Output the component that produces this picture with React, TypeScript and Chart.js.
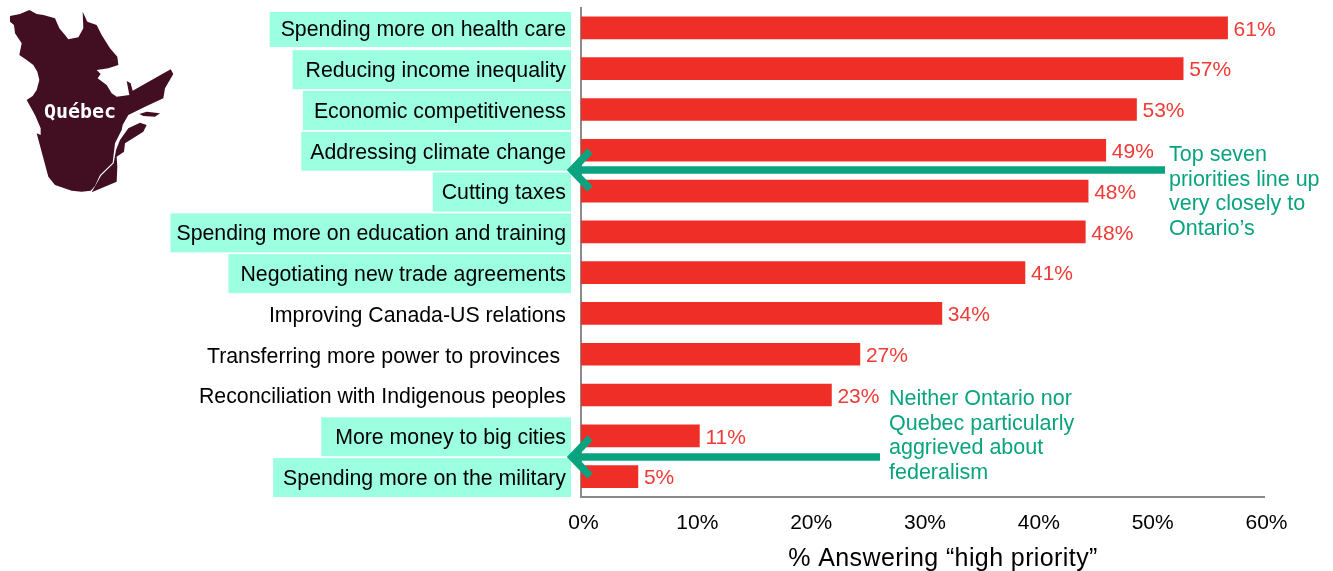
import React, { useEffect, useRef } from "react";
import { Chart, registerables } from "chart.js";

Chart.register(...registerables);

const categories = [
  "Spending more on health care",
  "Reducing income inequality",
  "Economic competitiveness",
  "Addressing climate change",
  "Cutting taxes",
  "Spending more on education and training",
  "Negotiating new trade agreements",
  "Improving Canada-US relations",
  "Transferring more power to provinces ",
  "Reconciliation with Indigenous peoples",
  "More money to big cities",
  "Spending more on the military",
];
const barValues = [56.8, 52.9, 48.8, 46.1, 44.55, 44.3, 39, 31.7, 24.5, 22, 10.4, 5];
const valueLabels = ["61%", "57%", "53%", "49%", "48%", "48%", "41%", "34%", "27%", "23%", "11%", "5%"];
const highlighted = [true, true, true, true, true, true, true, false, false, false, true, true];
const backdropLeft = [10, 12, 10, 8, 8, 5, 11, 0, 0, 0, 13, 9];
const noteTop = ["Top seven", "priorities line up", "very closely to", "Ontario’s"];
const noteBottom = ["Neither Ontario nor", "Quebec particularly", "aggrieved about", "federalism"];
const axisTitle = "% Answering “high priority”";

const FONT = '"Liberation Sans", Arial, sans-serif';
const LABEL_SIZE = 21.3;
const RED = "#ef2e27";
const GREEN = "#0aa37f";
const GRAY = "#8a8a8a";
const MINT = "#9cffdf";
const MAROON = "#420f22";

const mapMain: [number, number][] = [
  [30, 48], [60, 42], [88, 30], [110, 42], [130, 45], [165, 55], [178, 85], [195, 105], [205, 118], [235, 112], [250, 85], [248, 35],
  [262, 65], [290, 75], [305, 105], [330, 145], [352, 170], [355, 195], [325, 205], [290, 210], [302, 222], [293, 235],
  [320, 255], [335, 280], [350, 290], [388, 285], [380, 243], [392, 250], [398, 272], [512, 208], [520, 222], [495, 265],
  [490, 295], [440, 318], [385, 345], [368, 375], [365, 390], [345, 430], [338, 488], [300, 525], [285, 558], [272, 572],
  [245, 575], [215, 572], [165, 555], [145, 530], [110, 400], [122, 405], [122, 385], [105, 345], [80, 300], [98, 288], [110, 270],
  [118, 240], [112, 215], [100, 195], [80, 180], [58, 165], [65, 130], [45, 100], [42, 75], [30, 65],
];
const mapGaspe: [number, number][] = [
  [440, 375], [420, 368], [385, 385], [360, 420], [348, 450], [341, 490], [303, 527], [275, 577], [350, 545], [352, 500],
  [350, 470], [372, 455], [375, 430], [430, 395],
];
const mapIsland: [number, number][] = [[418, 342], [440, 335], [480, 340], [465, 350], [430, 348]];

function poly(ctx: CanvasRenderingContext2D, pts: [number, number][]) {
  ctx.beginPath();
  pts.forEach(([x, y], i) => (i ? ctx.lineTo(x / 3, y / 3) : ctx.moveTo(x / 3, y / 3)));
  ctx.closePath();
  ctx.fill();
}

function arrow(ctx: CanvasRenderingContext2D, x0: number, tip: number, y: number, wing: number) {
  ctx.strokeStyle = GREEN;
  ctx.lineWidth = 7.5;
  ctx.lineCap = "butt";
  ctx.lineJoin = "miter";
  ctx.beginPath();
  ctx.moveTo(x0, y);
  ctx.lineTo(tip + 4, y);
  ctx.stroke();
  ctx.beginPath();
  ctx.moveTo(tip + wing + 3, y - wing);
  ctx.lineTo(tip + 4, y);
  ctx.lineTo(tip + wing + 3, y + wing);
  ctx.stroke();
}

const overlay = {
  id: "overlay",
  beforeDraw(chart: any) {
    const { ctx } = chart;
    const y = chart.scales.y;
    ctx.save();
    ctx.font = `${LABEL_SIZE}px ${FONT}`;
    ctx.fillStyle = MINT;
    categories.forEach((t, i) => {
      if (!highlighted[i]) return;
      const w = ctx.measureText(t).width;
      const c = y.getPixelForValue(i) + 1;
      const top = Math.max(12, c - 19.5);
      const bottom = i === 0 ? 47 : c + 19.5;
      const left = 565 - w - backdropLeft[i];
      ctx.fillRect(left, top, 571 - left, bottom - top);
    });
    ctx.restore();
  },
  afterDatasetsDraw(chart: any) {
    const { ctx } = chart;
    const x = chart.scales.x;
    const y = chart.scales.y;
    ctx.save();
    ctx.textBaseline = "middle";
    ctx.textAlign = "left";
    ctx.font = `21px ${FONT}`;
    ctx.fillStyle = "#ef3a35";
    valueLabels.forEach((t, i) => ctx.fillText(t, x.getPixelForValue(barValues[i]) + 6, y.getPixelForValue(i) + 2));

    arrow(ctx, 1165, 568, 170, 19);
    arrow(ctx, 880, 568, 457, 19);

    ctx.fillStyle = GREEN;
    ctx.font = `21.5px ${FONT}`;
    noteTop.forEach((t, i) => ctx.fillText(t, 1169, 155.5 + i * 24.4));
    noteBottom.forEach((t, i) => ctx.fillText(t, 889, 399.5 + i * 24.4));

    ctx.fillStyle = "#000";
    ctx.font = `25px ${FONT}`;
    (ctx as any).letterSpacing = "0.4px";
    ctx.textAlign = "center";
    ctx.fillText(axisTitle, 943, 559);
    (ctx as any).letterSpacing = "0px";

    ctx.fillStyle = MAROON;
    poly(ctx, mapMain);
    poly(ctx, mapGaspe);
    poly(ctx, mapIsland);
    ctx.fillStyle = "#fff";
    ctx.font = `bold 20px "DejaVu Sans Mono", monospace`;
    ctx.fillText("Québec", 80, 113);
    ctx.restore();
  },
};

export default function App() {
  const ref = useRef<HTMLCanvasElement>(null);
  useEffect(() => {
    const chart = new Chart(ref.current!, {
      type: "bar",
      data: {
        labels: categories,
        datasets: [{ data: barValues, backgroundColor: RED, barThickness: 22 }],
      },
      plugins: [overlay],
      options: {
        indexAxis: "y",
        animation: false,
        responsive: false,
        layout: { padding: { top: 7.5, right: 69, left: 0, bottom: 0 } },
        plugins: { legend: { display: false }, tooltip: { enabled: false } },
        scales: {
          x: {
            min: 0,
            max: 60,
            afterFit: (s: any) => { s.height = 74; s.paddingLeft = 0; s.paddingRight = 0; },
            grid: { display: false, drawTicks: false },
            border: { color: GRAY, width: 2 },
            ticks: {
              stepSize: 10,
              maxRotation: 0,
              padding: 14,
              labelOffset: 2.5,
              color: "#000",
              font: { family: FONT, size: 21 },
              callback: (v: any) => `${v}%`,
            },
          },
          y: {
            afterFit: (s: any) => { s.width = 581; s.paddingTop = 0; s.paddingBottom = 0; },
            grid: { display: false, drawTicks: false },
            border: { color: GRAY, width: 2 },
            ticks: {
              autoSkip: false,
              padding: 15,
              labelOffset: 2.5,
              color: "#000",
              font: { family: FONT, size: LABEL_SIZE },
            },
          },
        },
      },
    } as any);
    return () => chart.destroy();
  }, []);
  return <canvas ref={ref} width={1333} height={571} style={{ position: "absolute", left: 0, top: 0, display: "block" }} />;
}
